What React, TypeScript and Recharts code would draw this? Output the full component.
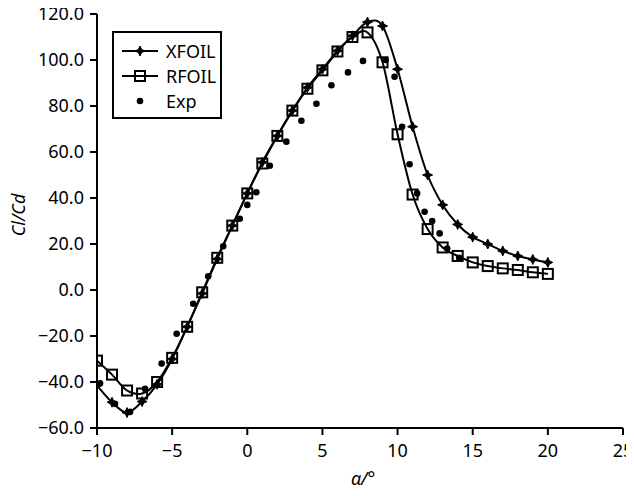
import React from 'react';
import { ComposedChart, Line, XAxis, YAxis, Label } from 'recharts';

const simAlpha = [-10, -9, -8, -7, -6, -5, -4, -3, -2, -1, 0, 1, 2, 3, 4, 5, 6, 7, 8, 9, 10, 11, 12, 13, 14, 15, 16, 17, 18, 19, 20];
const xfoilValues = [-41.5, -48.8, -53.3, -48.5, -41, -30, -16, -1.5, 13.5, 28, 42, 55.5, 67, 78, 88, 96, 104, 110.5, 116.5, 114.8, 96, 71, 50, 37, 28.5, 23, 20, 17, 14.8, 13.3, 12];
const rfoilValues = [-30.7, -36.8, -43.7, -45, -40, -29.5, -16, -1, 14, 28, 42, 55, 67, 78, 87.5, 95.5, 103.7, 110, 112, 99, 67.7, 41.5, 26.5, 18.5, 14.8, 12, 10.4, 9.4, 8.7, 7.7, 7];
const expAlpha = [-9.8, -8.8, -7.8, -6.8, -5.7, -4.7, -3.6, -2.6, -1.6, -0.5, 0.0, 0.6, 1.5, 2.6, 3.6, 4.6, 5.6, 6.7, 7.7, 9.2, 9.8, 10.3, 10.8, 11.3, 11.8, 12.3, 12.8, 13.3, 14.1];
const expValues = [-40.6, -49.5, -53, -43, -32, -19, -6, 6, 19, 31, 37, 42.5, 54, 64.5, 73.6, 81, 89, 94.6, 99.6, 100, 92.7, 71, 54.7, 42, 34, 30, 24.6, 18, 14];
const xTicks = [-10, -5, 0, 5, 10, 15, 20, 25];
const yTicks = [-60, -40, -20, 0, 20, 40, 60, 80, 100, 120];

const xfoilData = simAlpha.map((a, i) => ({ a, v: xfoilValues[i] }));
const rfoilData = simAlpha.map((a, i) => ({ a, v: rfoilValues[i] }));
const expData = expAlpha.map((a, i) => ({ a, v: expValues[i] }));

const FONT = '"Noto Sans", "Open Sans", sans-serif';

function excelCurve(context: any) {
  let pts: number[][] = [];
  return {
    areaStart() {},
    areaEnd() {},
    lineStart() { pts = []; },
    point(x: number, y: number) { pts.push([+x, +y]); },
    lineEnd() {
      if (!pts.length) return;
      context.moveTo(pts[0][0], pts[0][1]);
      for (let i = 0; i < pts.length - 1; i++) {
        const p0 = pts[i - 1] || pts[i];
        const p1 = pts[i];
        const p2 = pts[i + 1];
        const p3 = pts[i + 2] || pts[i + 1];
        const c1x = p1[0] + (p2[0] - p0[0]) / 6;
        const c1y = p1[1] + (p2[1] - p0[1]) / 6;
        const c2x = p2[0] - (p3[0] - p1[0]) / 6;
        const c2y = p2[1] - (p3[1] - p1[1]) / 6;
        context.bezierCurveTo(c1x, c1y, c2x, c2y, p2[0], p2[1]);
      }
    },
  };
}

const starPath = (cx: number, cy: number) => {
  const r = 5, q = 1.6;
  return `M${cx},${cy - r} L${cx + q},${cy - q} L${cx + r},${cy} L${cx + q},${cy + q} L${cx},${cy + r} L${cx - q},${cy + q} L${cx - r},${cy} L${cx - q},${cy - q} Z`;
};

const XDot = (props: any) => {
  const { cx, cy, index } = props;
  if (cx == null || cy == null) return <g key={`x${index}`} />;
  return <path key={`x${index}`} d={starPath(cx, cy)} fill="#000" stroke="#000" strokeWidth={1} />;
};
const RDot = (props: any) => {
  const { cx, cy, index } = props;
  if (cx == null || cy == null) return <g key={`r${index}`} />;
  return <rect key={`r${index}`} x={cx - 5} y={cy - 5} width={10} height={10} fill="none" stroke="#000" strokeWidth={2} />;
};
const EDot = (props: any) => {
  const { cx, cy, index } = props;
  if (cx == null || cy == null) return <g key={`e${index}`} />;
  return <circle key={`e${index}`} cx={cx} cy={cy} r={3.3} fill="#000" />;
};

const fmtY = (v: number) => v.toFixed(1).replace('-', '\u2212');
const fmtX = (v: number) => String(v).replace('-', '\u2212');

const LegendBox = () => {
  const row = (kind: string, label: string) => (
    <div style={{ display: 'flex', alignItems: 'center', height: 25 }}>
      <svg width={46} height={20} style={{ display: 'block' }}>
        {kind !== 'e' && <line x1={2} y1={10} x2={38} y2={10} stroke="#000" strokeWidth={2} />}
        {kind === 'x' && <path d={starPath(20, 10)} fill="#000" stroke="#000" strokeWidth={1} />}
        {kind === 'r' && <rect x={15} y={5} width={10} height={10} fill="none" stroke="#000" strokeWidth={2} />}
        {kind === 'e' && <circle cx={20} cy={10} r={3.3} fill="#000" />}
      </svg>
      <span style={{ fontFamily: FONT, fontSize: 18, color: '#000', lineHeight: '20px' }}>{label}</span>
    </div>
  );
  return (
    <div style={{ position: 'absolute', left: 104, top: 23, border: '2px solid #000', background: '#fff', width: 110, height: 88, boxSizing: 'border-box', padding: '5px 0 0 6px' }}>
      {row('x', 'XFOIL')}
      {row('r', 'RFOIL')}
      {row('e', 'Exp')}
    </div>
  );
};

const XLabel = (props: any) => {
  const vb = props.viewBox || {};
  const cx = (vb.x || 0) + (vb.width || 0) / 2;
  return (
    <text x={cx + 3} y={477} textAnchor="middle" fontFamily={FONT} fontSize={18} fontStyle="italic" fill="#000">α/°</text>
  );
};
const YLabel = (props: any) => {
  const vb = props.viewBox || {};
  const cy = (vb.y || 0) + (vb.height || 0) / 2 - 6;
  return (
    <text x={10} y={cy} transform={`rotate(-90, 10, ${cy})`} textAnchor="middle" dominantBaseline="central" fontFamily={FONT} fontSize={18} fontStyle="italic" fill="#000">Cl/Cd</text>
  );
};

export default function App() {
  const tickStyle = { fontFamily: FONT, fontSize: 18, fill: '#000' };
  return (
    <div style={{ position: 'relative', width: 626, height: 480 }}>
      <style>{'.recharts-surface{overflow:visible}'}</style>
      <ComposedChart width={626} height={480} margin={{ top: 6, right: 11, bottom: 0, left: 0 }}>
        <XAxis
          dataKey="a"
          type="number"
          domain={[-10, 25]}
          ticks={xTicks}
          tickFormatter={fmtX}
          allowDataOverflow
          interval={0}
          height={60}
          tickSize={7}
          tickMargin={9}
          tick={tickStyle}
          axisLine={{ stroke: '#000', strokeWidth: 2 }}
          tickLine={{ stroke: '#000', strokeWidth: 2 }}
        >
          <Label content={XLabel} />
        </XAxis>
        <YAxis
          type="number"
          domain={[-60, 120]}
          ticks={yTicks}
          tickFormatter={fmtY}
          allowDataOverflow
          interval={0}
          width={89}
          tickSize={7}
          tickMargin={6}
          tick={tickStyle}
          axisLine={{ stroke: '#000', strokeWidth: 2 }}
          tickLine={{ stroke: '#000', strokeWidth: 2 }}
        >
          <Label content={YLabel} />
        </YAxis>
        <Line data={xfoilData} dataKey="v" name="XFOIL" type={excelCurve as any} stroke="#000" strokeWidth={2} dot={XDot} activeDot={false} isAnimationActive={false} />
        <Line data={rfoilData} dataKey="v" name="RFOIL" type={excelCurve as any} stroke="#000" strokeWidth={2} dot={RDot} activeDot={false} isAnimationActive={false} />
        <Line data={expData} dataKey="v" name="Exp" stroke="none" strokeWidth={0} dot={EDot} activeDot={false} isAnimationActive={false} />
      </ComposedChart>
      <LegendBox />
    </div>
  );
}
